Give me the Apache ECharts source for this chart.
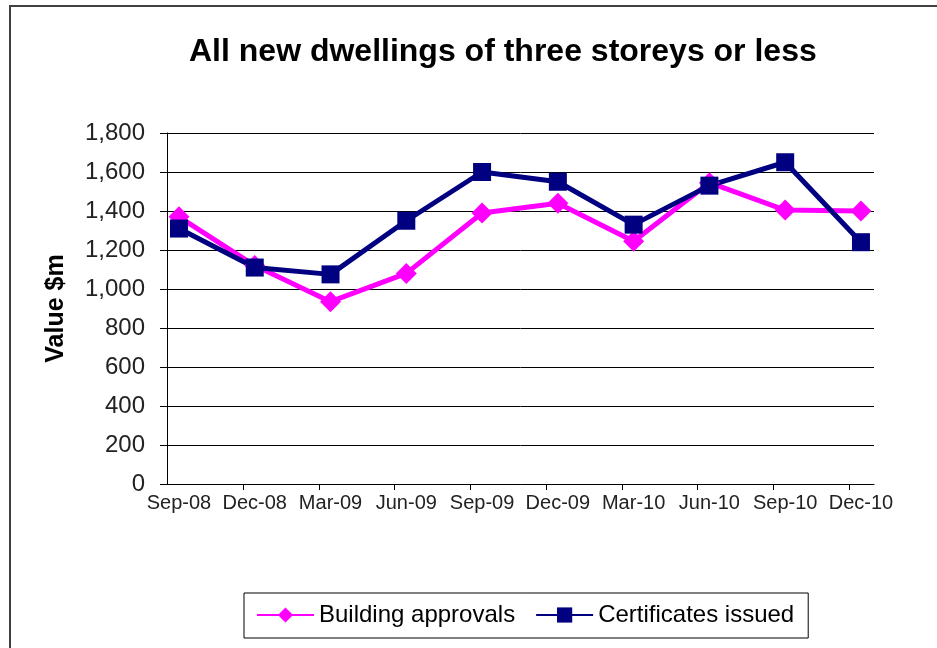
<!DOCTYPE html>
<html>
<head>
<meta charset="utf-8">
<script src="https://cdn.jsdelivr.net/npm/echarts@6/dist/echarts.min.js"></script>
<style>
  html, body { margin: 0; padding: 0; background: #fff; }
  #chart { width: 937px; height: 648px; }
</style>
</head>
<body>
<div id="chart"></div>
<script>
// quarters on the x axis
const quarters = ['Sep-08', 'Dec-08', 'Mar-09', 'Jun-09', 'Sep-09', 'Dec-09', 'Mar-10', 'Jun-10', 'Sep-10', 'Dec-10'];
// value $m
const buildingApprovals = [1370, 1120, 935, 1080, 1390, 1440, 1245, 1545, 1405, 1400];
const certificatesIssued = [1310, 1110, 1075, 1350, 1600, 1550, 1330, 1530, 1650, 1240];

const font = '"Liberation Sans", Arial, sans-serif';

function toPoints(values) {
  return values.map((v, i) => [i, v]);
}

const chart = echarts.init(document.getElementById('chart'));
const option = {
  animation: false,
  backgroundColor: '#fff',
  textStyle: { fontFamily: font, color: '#000' },
  graphic: [{
    type: 'rect',
    shape: { x: 10, y: 6, width: 1000, height: 700 },
    style: { fill: 'none', stroke: '#404040', lineWidth: 2 },
    silent: true
  }],
  title: {
    text: 'All new dwellings of three storeys or less',
    left: 184,
    top: 31,
    textStyle: { fontFamily: font, fontSize: 32, fontWeight: 'bold', color: '#000' }
  },
  legend: {
    left: 244,
    top: 593,
    itemWidth: 57,
    itemHeight: 19,
    itemGap: 20,
    padding: [10, 14, 11, 12],
    borderColor: '#000',
    borderWidth: 1,
    textStyle: { fontFamily: font, fontSize: 24, color: '#000' },
    data: ['Building approvals', 'Certificates issued']
  },
  grid: { left: 167, right: 63, top: 133, bottom: 164 },
  xAxis: {
    type: 'value',
    min: -0.158,
    max: 9.172,
    axisLine: { show: true, onZero: false, lineStyle: { color: '#000', width: 1 } },
    axisTick: {
      show: true, length: 6, inside: false,
      customValues: [0.845, 1.845, 2.845, 3.845, 4.845, 5.845, 6.845, 7.845, 8.845],
      lineStyle: { color: '#000' }
    },
    axisLabel: {
      customValues: [0, 1, 2, 3, 4, 5, 6, 7, 8, 9],
      formatter: v => quarters[Math.round(v)],
      fontFamily: font, fontSize: 20, color: '#222', margin: 9
    },
    splitLine: { show: false }
  },
  yAxis: {
    type: 'value',
    min: 0,
    max: 1800,
    interval: 200,
    name: 'Value $m',
    nameLocation: 'middle',
    nameGap: 98,
    nameRotate: 90,
    nameTextStyle: { fontFamily: font, fontSize: 25, fontWeight: 'bold', color: '#000' },
    axisLine: { show: true, onZero: false, lineStyle: { color: '#000', width: 1 } },
    axisTick: { show: true, length: 7, lineStyle: { color: '#000' } },
    axisLabel: {
      formatter: v => v.toLocaleString('en-US'),
      fontFamily: font, fontSize: 24, color: '#222', margin: 22
    },
    splitLine: { show: true, lineStyle: { color: '#000', width: 1 } }
  },
  series: [
    {
      name: 'Building approvals',
      type: 'line',
      data: toPoints(buildingApprovals),
      symbol: 'diamond',
      symbolSize: 21,
      lineStyle: { color: '#FF00FF', width: 5 },
      itemStyle: { color: '#FF00FF' }
    },
    {
      name: 'Certificates issued',
      type: 'line',
      data: toPoints(certificatesIssued),
      symbol: 'rect',
      symbolSize: 18,
      lineStyle: { color: '#000080', width: 5 },
      itemStyle: { color: '#000080' }
    }
  ]
};
chart.setOption(option);
</script>
</body>
</html>
